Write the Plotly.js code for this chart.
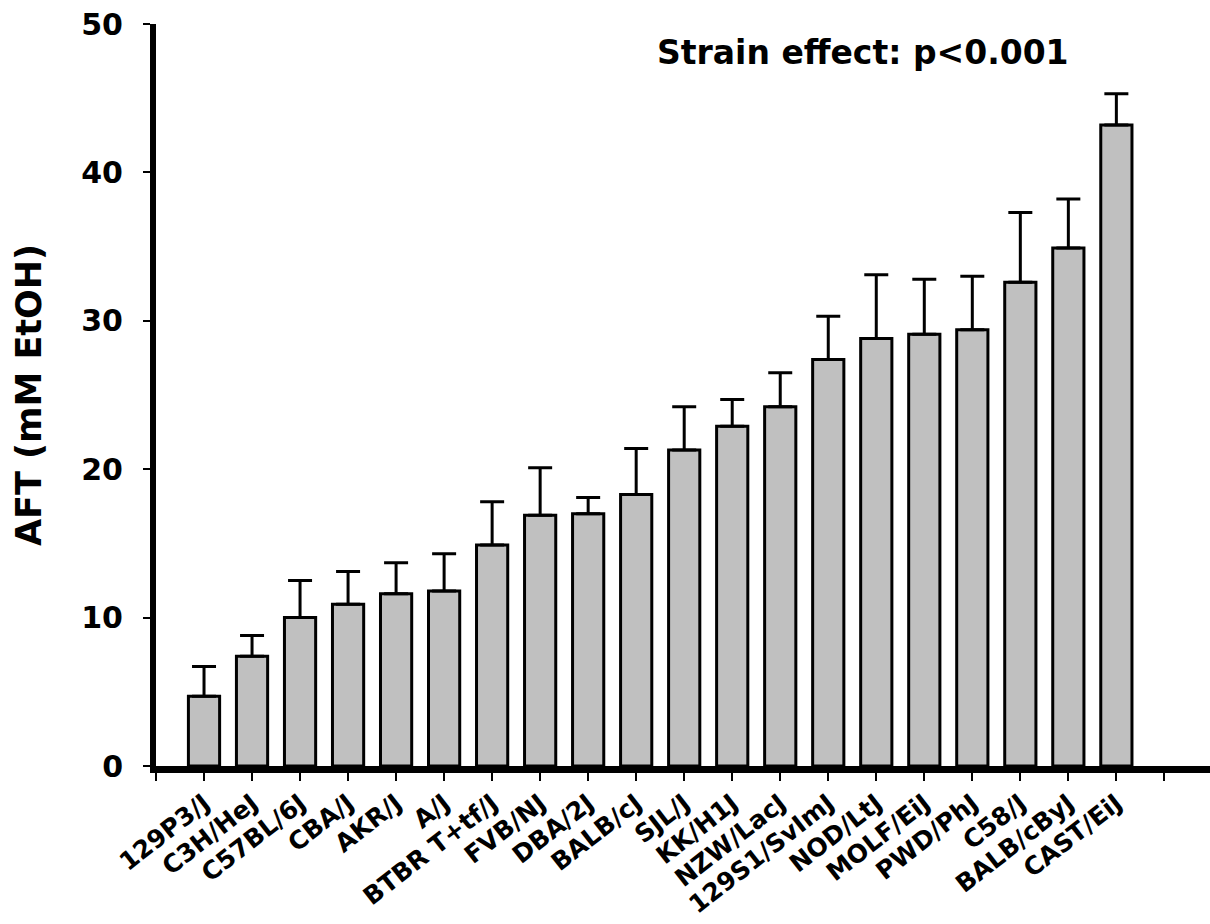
<!DOCTYPE html>
<html>
<head>
<meta charset="utf-8">
<script src="https://cdn.plot.ly/plotly-3.0.1.min.js"></script>
<style>
  html, body { margin: 0; padding: 0; background: #ffffff; }
  #chart { width: 1210px; height: 924px; }
</style>
</head>
<body>
<div id="chart"></div>
<script>
// Strains (x categories), in plotted order
const strains = [
  "129P3/J", "C3H/HeJ", "C57BL/6J", "CBA/J", "AKR/J", "A/J",
  "BTBR T+tf/J", "FVB/NJ", "DBA/2J", "BALB/cJ", "SJL/J", "KK/H1J",
  "NZW/LacJ", "129S1/SvImJ", "NOD/LtJ", "MOLF/EiJ", "PWD/PhJ",
  "C58/J", "BALB/cByJ", "CAST/EiJ"
];
// Mean AFT (mM EtOH)
const aftMean = [
  4.7, 7.4, 10.0, 10.9, 11.6, 11.8,
  14.9, 16.9, 17.0, 18.3, 21.3, 22.9,
  24.2, 27.4, 28.8, 29.1, 29.4,
  32.6, 34.9, 43.2
];
// Standard error (upper error bar only)
const aftSem = [
  2.0, 1.4, 2.5, 2.2, 2.1, 2.5,
  2.9, 3.2, 1.1, 3.1, 2.9, 1.8,
  2.3, 2.9, 4.3, 3.7, 3.6,
  4.7, 3.3, 2.1
];
// Y axis ticks
const yTicks = [0, 10, 20, 30, 40, 50];
const annotationText = "Strain effect: p<0.001";
const yTitle = "AFT (mM EtOH)";

const xPos = strains.map((s, i) => i);
const xTickVals = [-1].concat(xPos, [strains.length]);
const xTickText = [""].concat(strains, [""]);

const FONT = "DejaVu Sans, Liberation Sans, Arial, sans-serif";

const trace = {
  type: "bar",
  x: xPos,
  y: aftMean,
  width: 0.65,
  marker: { color: "#c0c0c0", line: { color: "#000000", width: 3 } },
  error_y: {
    type: "data",
    symmetric: false,
    array: aftSem,
    arrayminus: aftSem.map(() => 0),
    color: "#000000",
    thickness: 3,
    width: 12
  },
  hoverinfo: "x+y"
};

const layout = {
  width: 1210,
  height: 924,
  margin: { l: 156, r: 0, t: 24, b: 158 },
  paper_bgcolor: "#ffffff",
  plot_bgcolor: "#ffffff",
  showlegend: false,
  font: { family: FONT, color: "#000000" },
  xaxis: {
    range: [-1, 20.95],
    tickmode: "array",
    tickvals: xTickVals,
    ticktext: xTickText,
    tickangle: -38,
    tickfont: { family: FONT, size: 25, weight: "bold", color: "#000000" },
    ticks: "outside",
    ticklen: 8,
    tickwidth: 2,
    tickcolor: "#000000",
    ticklabelstandoff: -2,
    showline: true,
    linecolor: "#000000",
    linewidth: 7,
    showgrid: false,
    zeroline: false,
    automargin: false
  },
  yaxis: {
    range: [0, 50],
    tickmode: "array",
    tickvals: yTicks,
    tickfont: { family: FONT, size: 30, weight: "bold", color: "#000000" },
    ticks: "outside",
    ticklen: 7,
    tickwidth: 2,
    tickcolor: "#000000",
    ticklabelstandoff: 14,
    showline: true,
    linecolor: "#000000",
    linewidth: 6,
    showgrid: false,
    zeroline: false,
    automargin: false,
    title: {
      text: yTitle,
      font: { family: FONT, size: 35, weight: "bold", color: "#000000" },
      standoff: 31
    }
  },
  annotations: [{
    text: annotationText,
    xref: "paper",
    yref: "paper",
    x: 0.671,
    y: 0.962,
    xanchor: "center",
    yanchor: "middle",
    showarrow: false,
    font: { family: FONT, size: 33, weight: "bold", color: "#000000" }
  }]
};

Plotly.newPlot("chart", [trace], layout, { staticPlot: true, displayModeBar: false });
</script>
</body>
</html>
